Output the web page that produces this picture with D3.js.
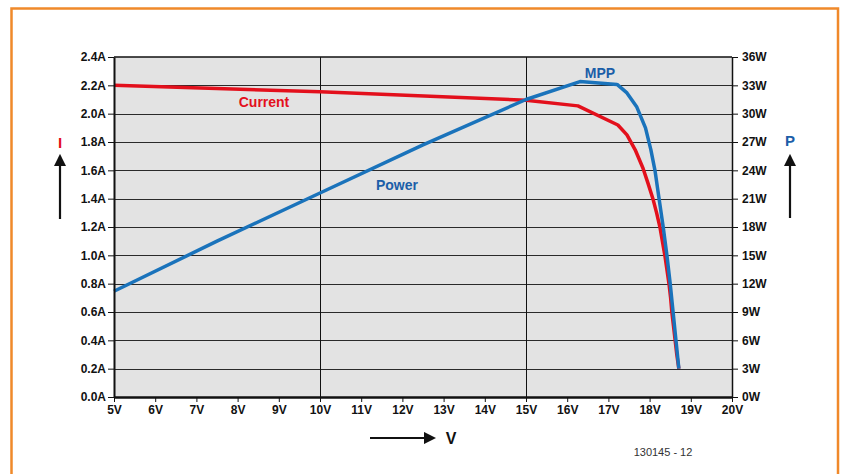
<!DOCTYPE html>
<html><head><meta charset="utf-8">
<script src="https://cdn.jsdelivr.net/npm/d3@7"></script>
<style>body{margin:0;background:#fff;} svg{display:block;}</style>
</head><body>
<svg id="c" width="843" height="474"></svg>
<script>
const voltTicks = [5,6,7,8,9,10,11,12,13,14,15,16,17,18,19,20];
const currentTicks = [0,0.2,0.4,0.6,0.8,1.0,1.2,1.4,1.6,1.8,2.0,2.2,2.4];
const powerTicks = [0,3,6,9,12,15,18,21,24,27,30,33,36];
const gridVolts = [10,15];

const currentV = [5,10,15,16.26,17.23,17.45,17.65,17.84,17.96,18.08,18.17,18.25,18.31,18.37,18.42,18.47,18.51,18.54,18.58,18.62,18.66,18.71];
const currentA = [2.2,2.155,2.095,2.055,1.92,1.85,1.745,1.615,1.51,1.4,1.3,1.2,1.1,1.0,0.9,0.8,0.7,0.6,0.5,0.4,0.3,0.2];

const powerV = [5,7.5,10,12.5,15,16.31,17.21,17.45,17.69,17.9,18.03,18.13,18.23,18.33,18.42,18.5,18.57,18.64,18.71];
const powerW = [11.2,16.5,21.6,26.7,31.5,33.4,33.1,32.2,30.7,28.5,26.2,24.0,21.0,18.0,15.0,12.0,9.0,6.0,3.0];

const svg = d3.select("#c");
const red = "#e3101c", blue = "#1a73bb", blueText = "#1b5ea8";
const font = "'Liberation Sans', Arial, sans-serif";

// outer frame
svg.append("rect").attr("x",11.5).attr("y",8.5).attr("width",826.5).attr("height",480)
  .attr("fill","none").attr("stroke","#f0892a").attr("stroke-width",2.5);

const x = d3.scaleLinear().domain([5,20]).range([114,732]);
const yI = d3.scaleLinear().domain([0,2.4]).range([397,57]);
const yP = d3.scaleLinear().domain([0,36]).range([397,57]);

svg.append("rect").attr("x",x(5)).attr("y",yI(2.4)).attr("width",x(20)-x(5)).attr("height",yI(0)-yI(2.4)).attr("fill","#e3e3e3");

// grid
svg.append("g").selectAll("line").data(currentTicks.slice(1,-1)).join("line")
  .attr("x1",x(5)).attr("x2",x(20)).attr("y1",d=>Math.round(yI(d))+0.5).attr("y2",d=>Math.round(yI(d))+0.5)
  .attr("stroke","#2a2a2a").attr("stroke-width",1);
svg.append("g").selectAll("line").data(gridVolts).join("line")
  .attr("y1",yI(0)).attr("y2",yI(2.4)).attr("x1",d=>Math.round(x(d))+0.5).attr("x2",d=>Math.round(x(d))+0.5)
  .attr("stroke","#111").attr("stroke-width",1);
svg.append("line").attr("x1",x(5)).attr("x2",x(20)).attr("y1",yI(2.4)).attr("y2",yI(2.4)).attr("stroke","#111").attr("stroke-width",1.5);

// curves
const lineI = d3.line().x(d=>x(d[0])).y(d=>yI(d[1]));
const lineP = d3.line().x(d=>x(d[0])).y(d=>yP(d[1]));
svg.append("path").datum(currentV.map((v,i)=>[v,currentA[i]]))
  .attr("d", lineI)
  .attr("fill","none").attr("stroke",red).attr("stroke-width",3.5).attr("stroke-linejoin","round");
svg.append("path").datum(powerV.map((v,i)=>[v,powerW[i]]))
  .attr("d", lineP)
  .attr("fill","none").attr("stroke",blue).attr("stroke-width",3.5).attr("stroke-linejoin","round");

// axes
function styleAxis(g){
  g.selectAll("text").attr("font-family",font).attr("font-weight","bold").attr("font-size","12px").attr("fill","#111");
  g.selectAll(".tick line").attr("stroke","#111");
}
const gl = svg.append("g").attr("transform",`translate(${x(5)},0)`)
  .call(d3.axisLeft(yI).tickValues(currentTicks).tickFormat(d=>d.toFixed(1)+"A").tickSize(6).tickPadding(2).tickSizeOuter(0));
styleAxis(gl); gl.select(".domain").attr("stroke","#111").attr("stroke-width",2);
const gr = svg.append("g").attr("transform",`translate(${x(20)},0)`)
  .call(d3.axisRight(yP).tickValues(powerTicks).tickFormat(d=>d+"W").tickSize(6).tickPadding(4).tickSizeOuter(0));
styleAxis(gr); gr.select(".domain").attr("stroke","#111").attr("stroke-width",1.5);
const gb = svg.append("g").attr("transform",`translate(0,${yI(0)})`)
  .call(d3.axisBottom(x).tickValues(voltTicks).tickFormat(d=>d+"V").tickSize(5).tickPadding(3).tickSizeOuter(0));
styleAxis(gb); gb.select(".domain").attr("stroke","#111").attr("stroke-width",2.5);

// labels
function label(t,px,py,col,size,weight,anchor){
  svg.append("text").attr("x",px).attr("y",py).text(t).attr("font-family",font).attr("font-size",size+"px")
   .attr("font-weight",weight).attr("fill",col).attr("text-anchor",anchor||"middle");
}
label("Current",264,107,red,14,"bold");
label("Power",397,190,blueText,14,"bold");
label("MPP",600,78,blueText,14,"bold");
label("I",60,148,red,15,"bold");
label("P",790,146,blueText,15,"bold");
label("V",451,444,"#111",16,"bold");
label("130145 - 12",663,456,"#333",11,"normal");

// arrows
svg.append("defs").append("marker").attr("id","ah").attr("viewBox","0 0 10 10").attr("refX",0).attr("refY",5)
  .attr("markerWidth",5.5).attr("markerHeight",5.5).attr("markerUnits","strokeWidth").attr("orient","auto")
  .append("path").attr("d","M0,0L10,5L0,10Z").attr("fill","#111");
function arrow(x1,y1,x2,y2){
  svg.append("line").attr("x1",x1).attr("y1",y1).attr("x2",x2).attr("y2",y2).attr("stroke","#111").attr("stroke-width",2.2).attr("marker-end","url(#ah)");
}
arrow(60,219,60,166);
arrow(790,218,790,166);
arrow(370,438,424,438);
</script>
</body></html>
